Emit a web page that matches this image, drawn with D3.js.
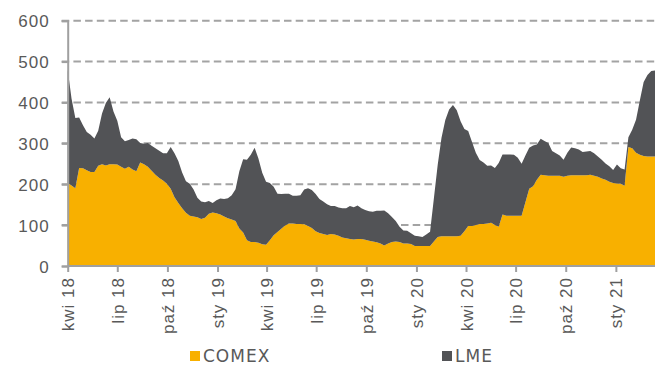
<!DOCTYPE html>
<html>
<head>
<meta charset="utf-8">
<script src="https://cdn.jsdelivr.net/npm/d3@7/dist/d3.min.js"></script>
<style>
  html, body { margin: 0; padding: 0; background: #fff; }
  svg { display: block; font-family: "DejaVu Sans", Verdana, sans-serif; }
</style>
</head>
<body>
<svg id="chart" width="655" height="365"></svg>
<script>
// Weekly stock levels, first observation 2018-04-01, one value per week
const firstWeek = "2018-04-01";

const comex = [
  203,197,190,240,239,234,230,230,245,249,246,249,249,248,243,238,243,236,232,253,
  249,243,233,223,215,209,201,189,168,154,141,130,123,121,119,115,118,128,131,129,
  126,121,117,114,110,92,82,63,59,59,57,53,52,63,75,83,91,99,104,104,
  103,103,102,98,93,85,81,78,76,78,77,74,70,68,66,65,66,66,64,62,
  60,58,55,50,55,59,60,59,55,55,54,49,49,49,49,49,60,71,73,73,
  73,73,73,74,85,98,98,100,103,103,104,106,100,96,126,123,123,123,123,123,
  156,189,195,211,223,222,221,221,221,221,218,221,222,222,222,222,222,223,221,218,
  214,211,206,203,202,201,196,291,288,277,272,269,268,268,268
];

const lme = [
  277,213,172,123,105,94,91,82,86,124,153,164,129,107,72,67,65,76,78,48,
  50,58,61,65,67,67,75,102,108,103,88,77,78,66,48,43,38,31,23,32,
  39,43,49,59,78,140,179,197,213,230,206,175,154,140,119,94,85,78,73,68,
  69,70,85,92,93,91,83,80,75,69,70,69,71,73,81,79,82,75,73,72,
  73,77,80,86,74,61,50,37,32,31,26,25,24,22,28,35,105,176,241,284,
  310,321,308,280,250,232,205,177,156,150,141,140,140,156,147,150,150,149,142,127,
  114,100,100,86,88,84,80,60,55,49,42,56,68,66,63,57,58,58,55,50,
  46,40,38,32,46,38,40,24,45,81,133,181,199,209,210
];

const seriesNames = ["COMEX", "LME"];
const seriesColors = ["#f8b000", "#525356"];
const yTicks = [0, 100, 200, 300, 400, 500, 600];
const xTickDates = ["2018-04-01","2018-07-01","2018-10-01","2019-01-01","2019-04-01","2019-07-01",
                    "2019-10-01","2020-01-01","2020-04-01","2020-07-01","2020-10-01","2021-01-01"];
const monthNames = ["sty","lut","mar","kwi","maj","cze","lip","sie","wrz","paź","lis","gru"];

const parse = d3.utcParse("%Y-%m-%d");
const start = parse(firstWeek);
const rows = comex.map((c, i) => ({
  date: d3.utcDay.offset(start, 7 * i),
  COMEX: c,
  LME: lme[i]
}));

const svg = d3.select("#chart");
const plot = { left: 67.7, right: 655.1, top: 20.7, bottom: 266 };
const labelFont = "17px";

const x = d3.scaleUtc()
  .domain([rows[0].date, rows[rows.length - 1].date])
  .range([plot.left, plot.right]);
const y = d3.scaleLinear().domain([0, 600]).range([plot.bottom, plot.top]);

// dashed horizontal gridlines
svg.append("g")
  .selectAll("line")
  .data(yTicks.filter(v => v > 0))
  .join("line")
  .attr("x1", plot.left - 6).attr("x2", 655)
  .attr("y1", d => y(d)).attr("y2", d => y(d))
  .attr("stroke", "#a3a3a3")
  .attr("stroke-width", 2)
  .attr("stroke-dasharray", "7.5,4.2");

// stacked areas: COMEX at the bottom, LME on top
const stack = d3.stack().keys(seriesNames);
const layers = stack(rows);
const area = d3.area()
  .x(d => x(d.data.date))
  .y0(d => y(d[0]))
  .y1(d => y(d[1]));

svg.append("g")
  .selectAll("path")
  .data(layers)
  .join("path")
  .attr("d", area)
  .attr("fill", (d, i) => seriesColors[i]);

// y axis
const yAxis = d3.axisLeft(y).tickValues(yTicks).tickSize(6).tickPadding(12);
const gy = svg.append("g").attr("transform", `translate(${plot.left},0)`).call(yAxis);
gy.select(".domain").attr("stroke", "#a0a0a0").attr("stroke-width", 2);
gy.selectAll(".tick line").attr("stroke", "#a0a0a0").attr("stroke-width", 2);
gy.selectAll(".tick text")
  .attr("fill", "#595959")
  .style("font-size", labelFont)
  .style("letter-spacing", "1px")
  .attr("dy", "0.36em");

// x axis with quarterly ticks
const fmt = d => `${monthNames[d.getUTCMonth()]} ${String(d.getUTCFullYear()).slice(2)}`;
const xAxis = d3.axisBottom(x)
  .tickValues(xTickDates.map(parse))
  .tickFormat(fmt)
  .tickSize(6)
  .tickSizeOuter(0);
const gx = svg.append("g").attr("transform", `translate(0,${plot.bottom})`).call(xAxis);
gx.select(".domain").attr("stroke", "#a0a0a0").attr("stroke-width", 2)
  .attr("d", `M${plot.left},0H655`);
gx.selectAll(".tick line").attr("stroke", "#a0a0a0").attr("stroke-width", 2);
gx.selectAll(".tick text")
  .attr("fill", "#595959")
  .style("font-size", labelFont)
  .style("letter-spacing", "1px")
  .attr("text-anchor", "end")
  .attr("transform", "rotate(-90)")
  .attr("x", -11)
  .attr("y", 0)
  .attr("dy", "0.36em");

// legend
const legendPos = [190, 442];
const legend = svg.append("g");
seriesNames.forEach((name, i) => {
  const g = legend.append("g").attr("transform", `translate(${legendPos[i]},356)`);
  g.append("rect").attr("x", 0).attr("y", -5).attr("width", 10).attr("height", 10)
    .attr("fill", seriesColors[i]);
  g.append("text").attr("x", 13).attr("y", 0).attr("dy", "0.36em")
    .attr("fill", "#595959")
    .style("font-size", labelFont)
    .style("letter-spacing", "1px")
    .text(name);
});
</script>
</body>
</html>
